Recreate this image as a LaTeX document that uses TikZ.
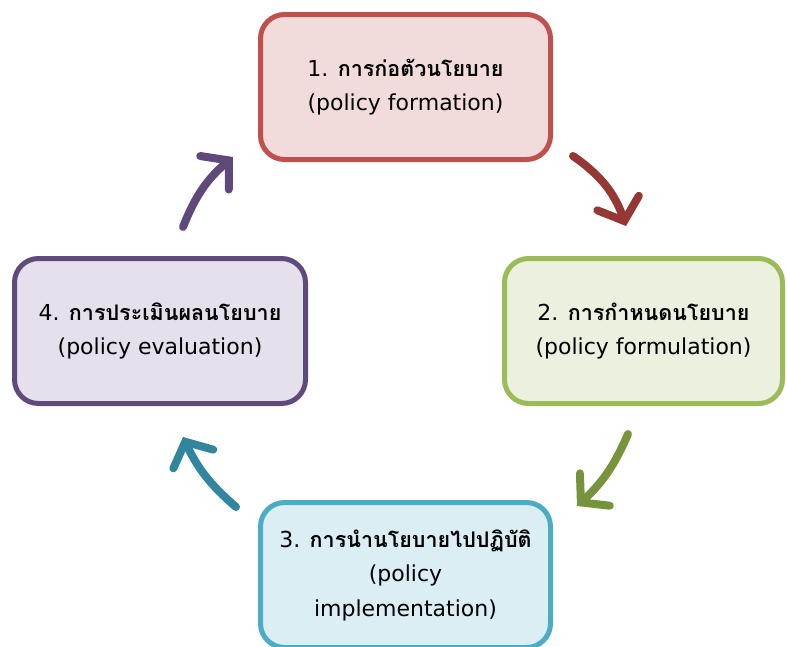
\documentclass[tikz,border=0pt]{standalone}
\usepackage{fontspec}
\newfontfamily\thaifont[Script=Thai]{Loma}
\newfontfamily\latinfont{DejaVu Sans}
\usetikzlibrary{positioning,arrows.meta}

\definecolor{formfill}{HTML}{F2DCDB}
\definecolor{formline}{HTML}{C0504D}
\definecolor{formarrow}{HTML}{953735}
\definecolor{formulfill}{HTML}{EBF1DE}
\definecolor{formulline}{HTML}{9BBB59}
\definecolor{formularrow}{HTML}{77933C}
\definecolor{implfill}{HTML}{DAEEF3}
\definecolor{implline}{HTML}{4BACC6}
\definecolor{implarrow}{HTML}{31859C}
\definecolor{evalfill}{HTML}{E5E0EC}
\definecolor{evalline}{HTML}{604A7B}
\definecolor{evalarrow}{HTML}{5F497A}

\newcommand{\thtext}[1]{{\thaifont\bfseries\fontsize{21.5}{34}\selectfont #1}}

\begin{document}
\begin{tikzpicture}
[x=1pt,y=1pt,
 every node/.style={line width=5pt,rounded corners=24pt,minimum height=145pt,inner sep=0pt,
   align=center,font=\latinfont\fontsize{22}{34.5}\selectfont},
 stage/.style={draw=#1line,fill=#1fill},
 cyc/.style={line width=8pt,line cap=round,draw=#1,
   -{Straight Barb[length=19pt,width=44pt,line cap=round,line join=miter]}}]
\useasboundingbox (0,0) rectangle (787,-646);
\node[stage=form,minimum width=290pt]  (form)  at (405.5,-87)               {1. \thtext{การก่อตัวนโยบาย}\\(policy formation)};
\node[stage=formul,minimum width=278pt] (formul) [on grid,below right=244pt and 238pt of form] {2. \thtext{การกำหนดนโยบาย}\\(policy formulation)};
\node[stage=impl,minimum width=290pt]  (impl)  [on grid,below=488pt of form]  {3. \thtext{การนำนโยบายไปปฏิบัติ}\\(policy\\implementation)};
\node[stage=eval,minimum width=291pt]  (eval)  [on grid,below left=244pt and 245.5pt of form] {4. \thtext{การประเมินผลนโยบาย}\\(policy evaluation)};
\coordinate (a1s) at (573,-156);
\coordinate (a1e) at (626,-226);
\coordinate (a2s) at (628,-434);
\coordinate (a2e) at (577,-506);
\coordinate (a3s) at (236,-507);
\coordinate (a3e) at (183,-437);
\coordinate (a4s) at (183,-227);
\coordinate (a4e) at (233,-157);
\draw[cyc=formarrow]   (a1s) to[bend left=18] (a1e);
\draw[cyc=formularrow] (a2s) to[bend left=12] (a2e);
\draw[cyc=implarrow]   (a3s) to[bend left=12] (a3e);
\draw[cyc=evalarrow]   (a4s) to[bend left=14] (a4e);
\end{tikzpicture}
\end{document}
